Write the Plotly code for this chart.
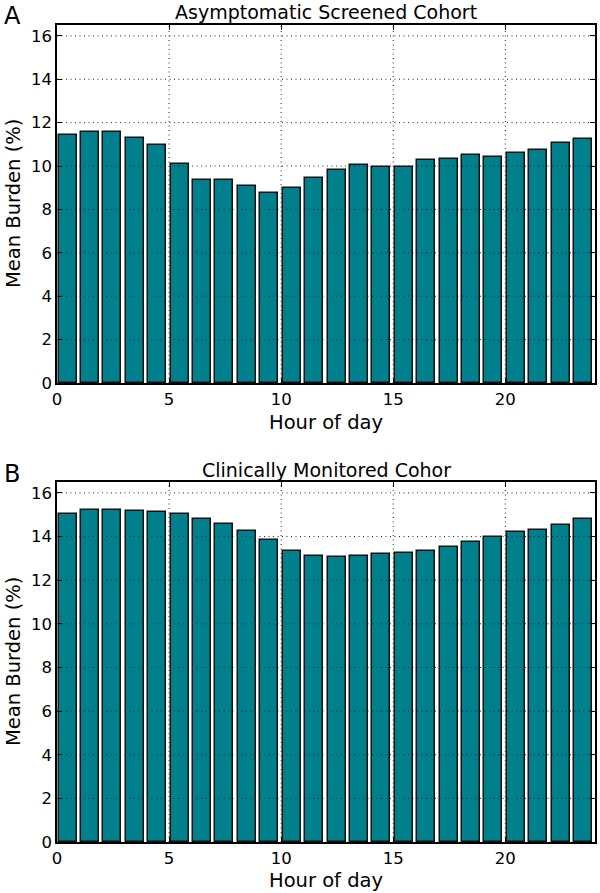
import plotly.graph_objects as go

hours = list(range(24))
cohort_a = [11.45, 11.56, 11.59, 11.28, 10.96, 10.09, 9.36, 9.36, 9.08, 8.78, 8.98, 9.43,
            9.80, 10.05, 9.97, 9.97, 10.26, 10.31, 10.49, 10.41, 10.61, 10.73, 11.05, 11.24]
cohort_b = [15.04, 15.21, 15.21, 15.18, 15.12, 15.04, 14.81, 14.57, 14.25, 13.83, 13.33, 13.10,
            13.08, 13.11, 13.22, 13.26, 13.33, 13.51, 13.77, 13.98, 14.20, 14.31, 14.51, 14.80]
titles = ["Asymptomatic Screened Cohort", "Clinically Monitored Cohor"]
panel_letters = ["A", "B"]
x_ticks = [0, 5, 10, 15, 20]
y_ticks = [0, 2, 4, 6, 8, 10, 12, 14, 16]

FONT = "DejaVu Sans"
BAR = "#007f8c"
W, H = 600, 893

def fy(px):
    return 1 - px / H

x_dom = [57 / W, 595 / W]
y_doms = [[fy(383), fy(25)], [fy(842), fy(482)]]

fig = go.Figure()
series = [cohort_a, cohort_b]
for i, vals in enumerate(series):
    fig.add_trace(go.Bar(
        x=[h + 0.47 for h in hours], y=vals, width=0.8,
        marker=dict(color=BAR, line=dict(color="#111111", width=1.5)),
        xaxis="x" if i == 0 else "x2", yaxis="y" if i == 0 else "y2",
        showlegend=False,
    ))

axis_common = dict(
    showgrid=False, zeroline=False, showline=True, linecolor="black", linewidth=1.5,
    mirror="allticks", ticks="inside", ticklen=5, tickwidth=1, tickcolor="black",
    tickfont=dict(family=FONT, size=16.5, color="black"), automargin=False,
)
fig.update_layout(
    width=W, height=H, margin=dict(l=0, r=0, t=0, b=0),
    plot_bgcolor="white", paper_bgcolor="white", bargap=0,
    xaxis=dict(domain=x_dom, range=[0, 24], tickvals=x_ticks, anchor="y", **axis_common),
    yaxis=dict(domain=y_doms[0], range=[0, 16.5], tickvals=y_ticks, anchor="x", **axis_common),
    xaxis2=dict(domain=x_dom, range=[0, 24], tickvals=x_ticks, anchor="y2", **axis_common),
    yaxis2=dict(domain=y_doms[1], range=[0, 16.5], tickvals=y_ticks, anchor="x2", **axis_common),
)

shapes = []
grid_line = dict(color="#222222", width=1, dash="1px,3.5px")
for i in range(2):
    xr = "x" if i == 0 else "x2"
    yr = "y" if i == 0 else "y2"
    for t in y_ticks[1:]:
        shapes.append(dict(type="line", xref=xr + " domain", yref=yr, x0=0, x1=1, y0=t, y1=t,
                           line=grid_line, layer="above"))
    for t in x_ticks[1:]:
        shapes.append(dict(type="line", xref=xr, yref=yr + " domain", x0=t, x1=t, y0=0, y1=1,
                           line=grid_line, layer="above"))
fig.update_layout(shapes=shapes)

ann = []
title_y = [12, 470]
letter_y = [16, 474]
xlabel_y = [422, 880]
ylabel_y = [(25 + 383) / 2, (482 + 842) / 2]
for i in range(2):
    ann.append(dict(text=titles[i], x=(57 + 595) / 2 / W, y=fy(title_y[i]), xref="paper", yref="paper",
                    showarrow=False, xanchor="center", yanchor="middle",
                    font=dict(family=FONT, size=19, color="black")))
    ann.append(dict(text=panel_letters[i], x=2 / W, y=fy(letter_y[i]), xref="paper", yref="paper",
                    showarrow=False, xanchor="left", yanchor="middle",
                    font=dict(family=FONT, size=24, color="black")))
    ann.append(dict(text="Hour of day", x=(57 + 595) / 2 / W, y=fy(xlabel_y[i]), xref="paper", yref="paper",
                    showarrow=False, xanchor="center", yanchor="middle",
                    font=dict(family=FONT, size=19.5, color="black")))
    ann.append(dict(text="Mean Burden (%)", x=13 / W, y=fy(ylabel_y[i]), xref="paper", yref="paper",
                    showarrow=False, xanchor="center", yanchor="middle", textangle=-90,
                    font=dict(family=FONT, size=19.5, color="black")))
fig.update_layout(annotations=ann)

fig.write_html("out.html", config={"displayModeBar": False},
               post_script="document.body.style.margin='0';document.body.style.padding='0';")
